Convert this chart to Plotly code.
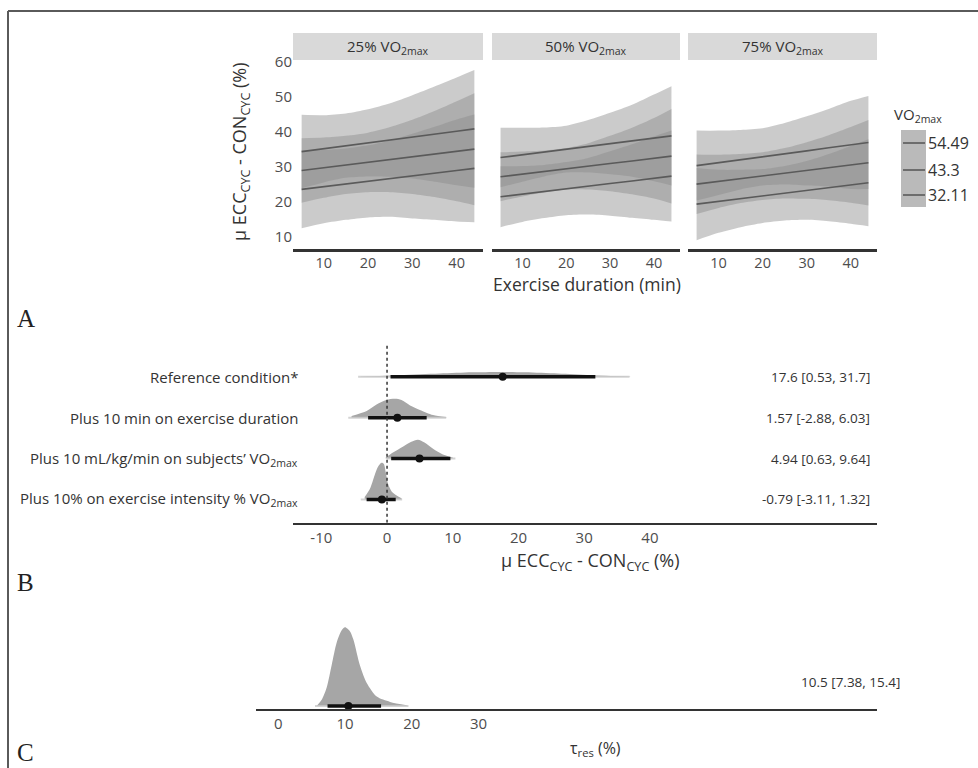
import plotly.graph_objects as go

W, H = 978, 768
def px(x): return x / W
def py(y): return 1 - y / H

# ---------------- Panel A data ----------------
DURATION = [5, 10, 15, 20, 25, 30, 35, 40, 44]
FACETS = ["25% VO<sub>2max</sub>", "50% VO<sub>2max</sub>", "75% VO<sub>2max</sub>"]
VO2_LEVELS = ["54.49", "43.3", "32.11"]

# 25% VO2max
P25_V54_LINE = [34.4, 35.2, 36.1, 36.9, 37.7, 38.6, 39.4, 40.2, 40.9]
P25_V54_UP   = [44.9, 44.8, 45.3, 46.5, 48.2, 50.5, 53.0, 55.6, 57.7]
P25_V54_DN   = [23.9, 25.6, 26.9, 27.3, 27.2, 26.7, 25.8, 24.8, 24.1]
P25_V43_LINE = [29.0, 29.8, 30.6, 31.3, 32.1, 32.9, 33.7, 34.5, 35.1]
P25_V43_UP   = [38.2, 38.4, 38.9, 39.8, 41.4, 43.5, 46.0, 48.8, 51.1]
P25_V43_DN   = [19.8, 21.2, 22.3, 22.8, 22.8, 22.3, 21.4, 20.2, 19.1]
P25_V32_LINE = [23.6, 24.4, 25.1, 25.9, 26.7, 27.4, 28.2, 29.0, 29.6]
P25_V32_UP   = [34.7, 34.9, 35.3, 36.2, 37.6, 39.5, 41.5, 43.6, 45.0]
P25_V32_DN   = [12.5, 13.9, 14.9, 15.6, 15.8, 15.3, 14.9, 14.4, 14.2]

# 50% VO2max
P50_V54_LINE = [32.7, 33.5, 34.3, 35.1, 35.9, 36.7, 37.5, 38.3, 38.9]
P50_V54_UP   = [41.2, 41.2, 41.3, 41.8, 43.4, 45.5, 47.8, 50.7, 53.1]
P50_V54_DN   = [24.2, 25.8, 27.3, 28.4, 28.4, 27.9, 27.2, 25.9, 24.7]
P50_V43_LINE = [27.2, 28.0, 28.7, 29.5, 30.2, 31.0, 31.7, 32.5, 33.1]
P50_V43_UP   = [34.2, 34.4, 34.7, 35.4, 36.8, 38.9, 41.2, 44.0, 46.6]
P50_V43_DN   = [20.2, 21.6, 22.7, 23.6, 23.6, 23.1, 22.2, 21.0, 19.6]
P50_V32_LINE = [21.5, 22.3, 23.0, 23.8, 24.5, 25.3, 26.0, 26.8, 27.4]
P50_V32_UP   = [30.2, 30.3, 30.6, 31.4, 32.6, 34.5, 36.5, 38.7, 40.4]
P50_V32_DN   = [12.8, 14.3, 15.4, 16.2, 16.4, 16.1, 15.5, 14.9, 14.4]

# 75% VO2max
P75_V54_LINE = [30.4, 31.2, 32.1, 32.9, 33.8, 34.6, 35.5, 36.3, 37.0]
P75_V54_UP   = [40.4, 40.4, 40.6, 41.1, 42.6, 44.5, 46.6, 48.9, 50.3]
P75_V54_DN   = [20.4, 22.0, 23.6, 24.7, 25.0, 24.7, 24.4, 23.7, 23.7]
P75_V43_LINE = [25.1, 25.9, 26.7, 27.4, 28.2, 29.0, 29.8, 30.6, 31.2]
P75_V43_UP   = [33.6, 33.5, 33.7, 34.2, 35.4, 37.1, 39.1, 41.4, 43.4]
P75_V43_DN   = [16.6, 18.3, 19.7, 20.6, 21.0, 20.9, 20.5, 19.8, 19.0]
P75_V32_LINE = [19.4, 20.2, 21.0, 21.7, 22.5, 23.3, 24.1, 24.9, 25.5]
P75_V32_UP   = [29.7, 29.2, 29.2, 29.4, 30.3, 31.7, 33.7, 36.0, 37.9]
P75_V32_DN   = [9.1, 11.2, 12.8, 14.0, 14.7, 14.9, 14.5, 13.8, 13.1]

A_Y_TICKS = [10, 20, 30, 40, 50, 60]
A_X_TICKS = [10, 20, 30, 40]

# ---------------- Panel B data ----------------
B_ROWS = ["Reference condition*",
          "Plus 10 min on exercise duration",
          "Plus 10 mL/kg/min on subjects\u2019 VO<sub>2max</sub>",
          "Plus 10% on exercise intensity % VO<sub>2max</sub>"]
B_POS = [4, 3, 2, 1]
B_MEDIAN = [17.6, 1.57, 4.94, -0.79]
B_CI_LO = [0.53, -2.88, 0.63, -3.11]
B_CI_HI = [31.7, 6.03, 9.64, 1.32]
B_WIDE_LO = [-4.4, -5.9, 0.0, -4.0]
B_WIDE_HI = [36.9, 9.0, 10.4, 2.3]
B_LABELS = ["17.6 [0.53, 31.7]", "1.57 [-2.88, 6.03]", "4.94 [0.63, 9.64]", "-0.79 [-3.11, 1.32]"]
B_X_TICKS = [-10, 0, 10, 20, 30, 40]
B_X_TICKTEXT = ["-10", "0", "10", "20", "30", "40"]

B_D1_X = [-4, 2, 8, 13, 17, 21, 26, 31, 37]
B_D1_H = [0.01, 0.04, 0.08, 0.11, 0.12, 0.11, 0.08, 0.04, 0.01]
B_D2_X = [-5.4, -3.1, -1.6, -0.1, 1.2, 2.2, 3.5, 5.0, 7.0, 9.0]
B_D2_H = [0.04, 0.16, 0.32, 0.43, 0.46, 0.43, 0.30, 0.19, 0.065, 0.017]
B_D3_X = [-0.2, 0.9, 2.4, 3.7, 4.7, 5.7, 7.0, 8.5, 10.0]
B_D3_H = [0.024, 0.146, 0.29, 0.41, 0.46, 0.39, 0.24, 0.10, 0.024]
B_D4_X = [-3.4, -2.6, -1.9, -1.4, -0.85, -0.5, -0.2, 0.15, 0.7, 1.4, 2.2]
B_D4_H = [0.057, 0.26, 0.585, 0.79, 0.895, 0.87, 0.67, 0.38, 0.195, 0.10, 0.03]

# ---------------- Panel C data ----------------
C_MEDIAN = 10.5
C_CI = [7.38, 15.4]
C_WIDE = [5.5, 19.5]
C_LABEL = "10.5 [7.38, 15.4]"
C_D_X = [5.75, 6.5, 7.25, 8.0, 8.75, 9.5, 10.0, 10.75, 11.25, 12.25, 13.25, 14.75, 16.75, 19.25]
C_D_H = [0.0, 0.15, 0.45, 1.0, 1.55, 1.85, 1.92, 1.82, 1.62, 0.98, 0.56, 0.23, 0.10, 0.02]
C_X_TICKS = [0, 10, 20, 30]

# ---------------- Styles ----------------
RIB_FILL = "rgba(139,139,139,0.45)"
LINE_COL = "#5a5a5a"
TXT = "#333333"
TICK_TXT = "#4d4d4d"
FONT = "Open Sans"

fig = go.Figure()

panels = [
    ("x", "y", [(P25_V54_LINE, P25_V54_UP, P25_V54_DN), (P25_V43_LINE, P25_V43_UP, P25_V43_DN), (P25_V32_LINE, P25_V32_UP, P25_V32_DN)]),
    ("x2", "y2", [(P50_V54_LINE, P50_V54_UP, P50_V54_DN), (P50_V43_LINE, P50_V43_UP, P50_V43_DN), (P50_V32_LINE, P50_V32_UP, P50_V32_DN)]),
    ("x3", "y3", [(P75_V54_LINE, P75_V54_UP, P75_V54_DN), (P75_V43_LINE, P75_V43_UP, P75_V43_DN), (P75_V32_LINE, P75_V32_UP, P75_V32_DN)]),
]
for xa, ya, series in panels:
    for line, up, dn in series:
        fig.add_trace(go.Scatter(x=DURATION, y=dn, mode="lines", line=dict(width=0, shape="spline", smoothing=0.8),
                                 xaxis=xa, yaxis=ya, showlegend=False, hoverinfo="skip"))
        fig.add_trace(go.Scatter(x=DURATION, y=up, mode="lines", fill="tonexty", fillcolor=RIB_FILL,
                                 line=dict(width=0, shape="spline", smoothing=0.8),
                                 xaxis=xa, yaxis=ya, showlegend=False, hoverinfo="skip"))
    for line, up, dn in series:
        fig.add_trace(go.Scatter(x=DURATION, y=line, mode="lines", line=dict(color=LINE_COL, width=1.6),
                                 xaxis=xa, yaxis=ya, showlegend=False))

# Panel B
DENS_FILL = "#a6a6a6"
dens = [(B_D1_X, B_D1_H), (B_D2_X, B_D2_H), (B_D3_X, B_D3_H), (B_D4_X, B_D4_H)]
for i, (dx, dh) in enumerate(dens):
    base = B_POS[i]
    fig.add_trace(go.Scatter(x=[dx[0], dx[-1]], y=[base, base], mode="lines", line=dict(width=0),
                             xaxis="x4", yaxis="y4", showlegend=False, hoverinfo="skip"))
    fig.add_trace(go.Scatter(x=dx, y=[base + h for h in dh], fill="tonexty", fillcolor=DENS_FILL, mode="lines",
                             line=dict(width=0, shape="spline", smoothing=0.8),
                             xaxis="x4", yaxis="y4", showlegend=False, hoverinfo="skip"))
for i in range(4):
    fig.add_trace(go.Scatter(x=[B_WIDE_LO[i], B_WIDE_HI[i]], y=[B_POS[i]] * 2, mode="lines",
                             line=dict(color="rgba(200,200,200,0.8)", width=2),
                             xaxis="x4", yaxis="y4", showlegend=False))
    fig.add_trace(go.Scatter(x=[B_CI_LO[i], B_CI_HI[i]], y=[B_POS[i]] * 2, mode="lines",
                             line=dict(color="#111111", width=3.5),
                             xaxis="x4", yaxis="y4", showlegend=False))
fig.add_trace(go.Scatter(x=B_MEDIAN, y=B_POS, mode="markers", marker=dict(color="#111111", size=8),
                         xaxis="x4", yaxis="y4", showlegend=False))

# Panel C
fig.add_trace(go.Scatter(x=[C_D_X[0], C_D_X[-1]], y=[1, 1], mode="lines", line=dict(width=0),
                         xaxis="x5", yaxis="y5", showlegend=False, hoverinfo="skip"))
fig.add_trace(go.Scatter(x=C_D_X, y=[1 + h for h in C_D_H], fill="tonexty", fillcolor=DENS_FILL, mode="lines",
                         line=dict(width=0, shape="spline", smoothing=0.8),
                         xaxis="x5", yaxis="y5", showlegend=False, hoverinfo="skip"))
fig.add_trace(go.Scatter(x=C_WIDE, y=[1, 1], mode="lines", line=dict(color="rgba(200,200,200,0.8)", width=2),
                         xaxis="x5", yaxis="y5", showlegend=False))
fig.add_trace(go.Scatter(x=C_CI, y=[1, 1], mode="lines", line=dict(color="#111111", width=3.5),
                         xaxis="x5", yaxis="y5", showlegend=False))
fig.add_trace(go.Scatter(x=[C_MEDIAN], y=[1], mode="markers", marker=dict(color="#111111", size=8),
                         xaxis="x5", yaxis="y5", showlegend=False))

# ---------------- Axes ----------------
tickfont = dict(family=FONT, size=15, color=TICK_TXT)
tickfont_a = dict(family=FONT, size=14.5, color=TICK_TXT)
base_x = dict(showgrid=False, zeroline=False, ticks="", showline=True, linecolor="#333333", automargin=False)
A_YDOM = [py(249), py(60)]
A_YRANGE = [6.57, 60.57]
A_XRANGE = [3.05, 45.95]
layout = dict(
    width=W, height=H, autosize=False,
    margin=dict(l=0, r=0, t=0, b=0, pad=0, autoexpand=False),
    paper_bgcolor="white", plot_bgcolor="white",
    font=dict(family=FONT, color=TXT),
    xaxis=dict(domain=[px(293), px(483)], range=A_XRANGE, tickvals=A_X_TICKS, anchor="y", linewidth=3,
               tickfont=tickfont_a, ticklabelstandoff=-1, **base_x),
    xaxis2=dict(domain=[px(492), px(680)], range=A_XRANGE, tickvals=A_X_TICKS, anchor="y2", linewidth=3,
                tickfont=tickfont_a, ticklabelstandoff=-1, **base_x),
    xaxis3=dict(domain=[px(688), px(877)], range=A_XRANGE, tickvals=A_X_TICKS, anchor="y3", linewidth=3,
                tickfont=tickfont_a, ticklabelstandoff=-1, **base_x),
    yaxis=dict(domain=A_YDOM, range=A_YRANGE, tickvals=A_Y_TICKS, anchor="x", showgrid=False, zeroline=False,
               ticks="", showline=False, tickfont=tickfont, automargin=False),
    yaxis2=dict(domain=A_YDOM, range=A_YRANGE, anchor="x2", showgrid=False, zeroline=False, showticklabels=False),
    yaxis3=dict(domain=A_YDOM, range=A_YRANGE, anchor="x3", showgrid=False, zeroline=False, showticklabels=False),
    xaxis4=dict(domain=[px(293), px(877)], range=[-14.31, 74.56], tickvals=B_X_TICKS, ticktext=B_X_TICKTEXT,
                anchor="y4", linewidth=2, tickfont=tickfont, **base_x),
    yaxis4=dict(domain=[py(522.7), py(340)], range=[0.43, 4.9], anchor="x4", showgrid=False, zeroline=False,
                showticklabels=False, ticks=""),
    xaxis5=dict(domain=[px(256), px(877)], range=[-3.34, 89.7], tickvals=C_X_TICKS, anchor="y5", linewidth=2,
                tickfont=tickfont, **base_x),
    yaxis5=dict(domain=[py(709.3), py(600)], range=[0.92, 3.585], anchor="x5", showgrid=False, zeroline=False,
                showticklabels=False, ticks=""),
)
fig.update_layout(**layout)

shapes = []
annotations = []
# frame
shapes.append(dict(type="line", xref="paper", yref="paper", x0=px(8), x1=1.0, y0=py(11), y1=py(11),
                   line=dict(color="#5a5a5a", width=2)))
shapes.append(dict(type="line", xref="paper", yref="paper", x0=px(8), x1=px(8), y0=py(11), y1=0,
                   line=dict(color="#5a5a5a", width=2)))
# facet strips
for (x0, x1), lab in zip([(293, 483), (492, 680), (688, 877)], FACETS):
    shapes.append(dict(type="rect", xref="paper", yref="paper", x0=px(x0), x1=px(x1), y0=py(60), y1=py(33),
                       fillcolor="#d9d9d9", line=dict(width=0), layer="below"))
    annotations.append(dict(xref="paper", yref="paper", x=px((x0 + x1) / 2), y=py(47), text=lab, showarrow=False,
                            font=dict(family=FONT, size=15, color=TXT), xanchor="center", yanchor="middle"))
# legend
annotations.append(dict(xref="paper", yref="paper", x=px(892), y=py(115), text="VO<sub>2max</sub>", showarrow=False,
                        font=dict(family=FONT, size=15, color=TXT), xanchor="left", yanchor="middle"))
shapes.append(dict(type="rect", xref="paper", yref="paper", x0=px(901), x1=px(926), y0=py(207), y1=py(130),
                   fillcolor="#bababa", line=dict(width=0)))
for yy, lab in zip([143, 170, 195], VO2_LEVELS):
    shapes.append(dict(type="line", xref="paper", yref="paper", x0=px(903), x1=px(925), y0=py(yy), y1=py(yy),
                       line=dict(color=LINE_COL, width=1.6)))
    annotations.append(dict(xref="paper", yref="paper", x=px(926), y=py(yy), text=lab, showarrow=False,
                            font=dict(family=FONT, size=16, color=TXT), xanchor="left", yanchor="middle"))
# panel A titles
annotations.append(dict(xref="paper", yref="paper", x=px(241), y=py(152), textangle=-90,
                        text="\u03bc ECC<sub>CYC</sub> - CON<sub>CYC</sub> (%)", showarrow=False,
                        font=dict(family=FONT, size=18, color=TXT), xanchor="center", yanchor="middle"))
annotations.append(dict(xref="paper", yref="paper", x=px(587), y=py(284), text="Exercise duration (min)",
                        showarrow=False, font=dict(family=FONT, size=17.5, color=TXT), xanchor="center",
                        yanchor="middle"))
# panel B
shapes.append(dict(type="line", xref="x4", yref="y4", x0=0, x1=0, y0=0.43, y1=4.78,
                   line=dict(color="#333333", width=1.5, dash="3px,3px")))
for i in range(4):
    annotations.append(dict(xref="paper", yref="y4", x=px(300), y=B_POS[i], text=B_ROWS[i], showarrow=False,
                            font=dict(family=FONT, size=15, color=TXT), xanchor="right", yanchor="middle"))
    annotations.append(dict(xref="paper", yref="y4", x=px(872), y=B_POS[i], text=B_LABELS[i], showarrow=False,
                            font=dict(family=FONT, size=13.5, color=TXT), xanchor="right", yanchor="middle"))
annotations.append(dict(xref="paper", yref="paper", x=px(590), y=py(561),
                        text="\u03bc ECC<sub>CYC</sub> - CON<sub>CYC</sub> (%)", showarrow=False,
                        font=dict(family=FONT, size=18, color=TXT), xanchor="center", yanchor="middle"))
# panel C
annotations.append(dict(xref="paper", yref="paper", x=px(902), y=py(682), text=C_LABEL, showarrow=False,
                        font=dict(family=FONT, size=13.5, color=TXT), xanchor="right", yanchor="middle"))
annotations.append(dict(xref="paper", yref="paper", x=px(595), y=py(748), text="\u03c4<sub>res</sub> (%)",
                        showarrow=False, font=dict(family=FONT, size=16, color=TXT), xanchor="center", yanchor="middle"))
# panel letters
for lab, yy in [("A", 319), ("B", 582), ("C", 752)]:
    annotations.append(dict(xref="paper", yref="paper", x=px(15), y=py(yy), text=lab, showarrow=False,
                            font=dict(family="Liberation Serif", size=25, color="#222222"),
                            xanchor="left", yanchor="middle"))

fig.update_layout(shapes=shapes, annotations=annotations)
fig.write_html("out.html")
